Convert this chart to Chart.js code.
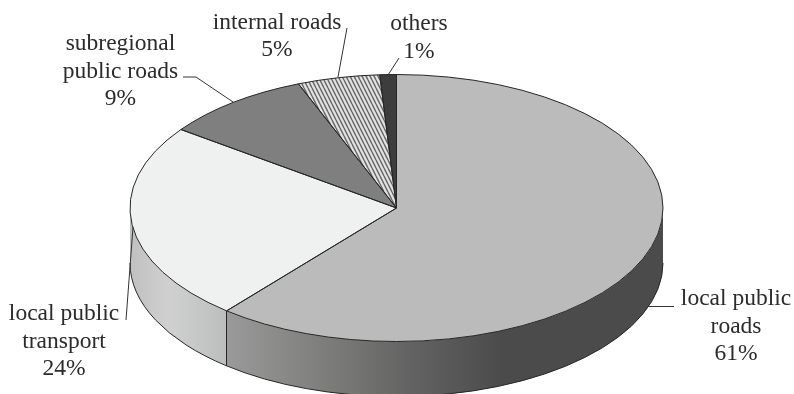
<!DOCTYPE html>
<html>
<head>
<meta charset="utf-8">
<style>
  html, body { margin: 0; padding: 0; background: #ffffff; }
  canvas { display: block; }
</style>
<script src="https://cdn.jsdelivr.net/npm/chart.js@4/dist/chart.umd.js"></script>
</head>
<body>
<canvas id="pie" width="794" height="394"></canvas>
<script>
// Shares of the road and transport budget
const categories = ["local public roads", "local public transport", "subregional public roads", "internal roads", "others"];
const shares = [61, 24, 9, 5, 1];
const labelLines = [["local public", "roads"], ["local public", "transport"], ["subregional", "public roads"], ["internal roads"], ["others"]];

// Look of the tilted disc
const disc = { cx: 396.5, cy: 208, rx: 266.5, ry: 133.5, depth: 55 };
const outline = "#262626";
const textColor = "#2b2b2b";
const fontSpec = '23.5px "Liberation Serif"';
const lineStep = 27.7;

// Callout text anchors and their leader lines, one per category
const callouts = [
  { x: 736, y: 305, leader: [[674, 306.5], [648, 306.5]] },
  { x: 64, y: 320, leader: [[126, 320], [133, 227]] },
  { x: 120.5, y: 50, leader: [[183, 77], [196, 77], [233, 102]] },
  { x: 277, y: 28.5, leader: [[347, 28], [338, 77]] },
  { x: 419, y: 30, leader: [[399, 58], [388, 75]] }
];

// Steep diagonal hatching for the internal roads slice
function hatchPattern() {
  const w = 4, h = 8;
  const tile = document.createElement("canvas");
  tile.width = w; tile.height = h;
  const c = tile.getContext("2d");
  c.fillStyle = "#e4e4e4";
  c.fillRect(0, 0, w, h);
  c.strokeStyle = "#6c6c6c";
  c.lineWidth = 1.5;
  c.beginPath();
  for (let k = -1; k <= 1; k++) {
    c.moveTo(k * w, 0);
    c.lineTo(k * w + w, h);
  }
  c.stroke();
  return document.createElement("canvas").getContext("2d").createPattern(tile, "repeat");
}

const hatch = hatchPattern();
const fills = ["#bbbbbb", "#eff1f0", "#7f7f7f", hatch, "#3d3d3d"];

// Gradient stops along the visible rim, left to right
const rimStops = [
  [[0, "#9a9a9a"], [0.28, "#767674"], [0.41, "#646464"], [0.63, "#4b4b4b"], [1, "#4b4b4b"]],
  [[0, "#c0c0c0"], [0.4, "#d0d0d0"], [1, "#bcbebe"]]
];

function pointOn(angle) {
  return [disc.cx + disc.rx * Math.cos(angle), disc.cy + disc.ry * Math.sin(angle)];
}

// Builds the ellipse-squashed transform for an arc element of the chart
function squash(ctx, arc) {
  ctx.translate(disc.cx, disc.cy);
  ctx.scale(disc.rx / arc.outerRadius, disc.ry / arc.outerRadius);
  ctx.translate(-arc.x, -arc.y);
}

// Walls of the disc, taken from the angles the chart computed for each slice
function drawRim(ctx, arcs) {
  const visible = arcs
    .map((arc, i) => ({ i, from: Math.max(arc.startAngle, 0), to: Math.min(arc.endAngle, Math.PI) }))
    .filter(s => s.to > s.from);

  visible.forEach(s => {
    const a = pointOn(s.from), b = pointOn(s.to);
    const grad = ctx.createLinearGradient(Math.min(a[0], b[0]), 0, Math.max(a[0], b[0]), 0);
    rimStops[s.i].forEach(stop => grad.addColorStop(stop[0], stop[1]));
    ctx.beginPath();
    ctx.ellipse(disc.cx, disc.cy, disc.rx, disc.ry, 0, s.from, s.to);
    ctx.ellipse(disc.cx, disc.cy + disc.depth, disc.rx, disc.ry, 0, s.to, s.from, true);
    ctx.closePath();
    ctx.fillStyle = grad;
    ctx.fill();
  });

  // pen work goes on after every fill so no wall paints over a neighbour's edge
  ctx.lineWidth = 1;
  ctx.strokeStyle = outline;
  visible.forEach(s => {
    ctx.beginPath();
    ctx.ellipse(disc.cx, disc.cy + disc.depth, disc.rx, disc.ry, 0, s.from, s.to);
    ctx.stroke();
    if (s.to < Math.PI) {
      const b = pointOn(s.to);
      const edgeX = Math.floor(b[0]) + 0.5;
      ctx.beginPath();
      ctx.moveTo(edgeX, b[1]);
      ctx.lineTo(edgeX, b[1] + disc.depth);
      ctx.stroke();
    }
  });
}

// Outlines of the top face, stroked without the squash so the pen stays round
function drawSliceEdges(ctx, arcs) {
  ctx.lineWidth = 1;
  ctx.strokeStyle = outline;
  ctx.lineJoin = "round";
  arcs.forEach(arc => {
    ctx.beginPath();
    ctx.moveTo(disc.cx, disc.cy);
    ctx.ellipse(disc.cx, disc.cy, disc.rx, disc.ry, 0, arc.startAngle, arc.endAngle);
    ctx.closePath();
    ctx.stroke();
  });
}

function drawCallouts(ctx) {
  ctx.font = fontSpec;
  ctx.fillStyle = textColor;
  ctx.textAlign = "center";
  ctx.textBaseline = "alphabetic";
  callouts.forEach((c, i) => {
    const lines = labelLines[i].concat(shares[i] + "%");
    lines.forEach((line, k) => ctx.fillText(line, c.x, c.y + k * lineStep));
    ctx.beginPath();
    c.leader.forEach((p, k) => k ? ctx.lineTo(p[0], p[1]) : ctx.moveTo(p[0], p[1]));
    ctx.strokeStyle = "#333333";
    ctx.lineWidth = 1;
    ctx.stroke();
  });
}

const tiltedDisc = {
  id: "tiltedDisc",
  beforeDatasetsDraw(chart) {
    const ctx = chart.ctx;
    const arcs = chart.getDatasetMeta(0).data;
    drawRim(ctx, arcs);
    ctx.save();
    squash(ctx, arcs[0]);
    // keep the hatching at screen scale inside the squashed space
    const m = ctx.getTransform();
    hatch.setTransform(new DOMMatrix([m.a, m.b, m.c, m.d, m.e, m.f]).inverse());
  },
  afterDatasetsDraw(chart) {
    const ctx = chart.ctx;
    ctx.restore();
    const arcs = chart.getDatasetMeta(0).data;
    drawSliceEdges(ctx, arcs);
    drawCallouts(ctx);
  }
};

new Chart(document.getElementById("pie"), {
  type: "pie",
  data: {
    labels: categories,
    datasets: [{ data: shares, backgroundColor: fills, borderWidth: 0, clip: false }]
  },
  options: {
    responsive: false,
    animation: false,
    layout: { padding: 0 },
    plugins: { legend: { display: false }, tooltip: { enabled: false } }
  },
  plugins: [tiltedDisc]
});
</script>
</body>
</html>
